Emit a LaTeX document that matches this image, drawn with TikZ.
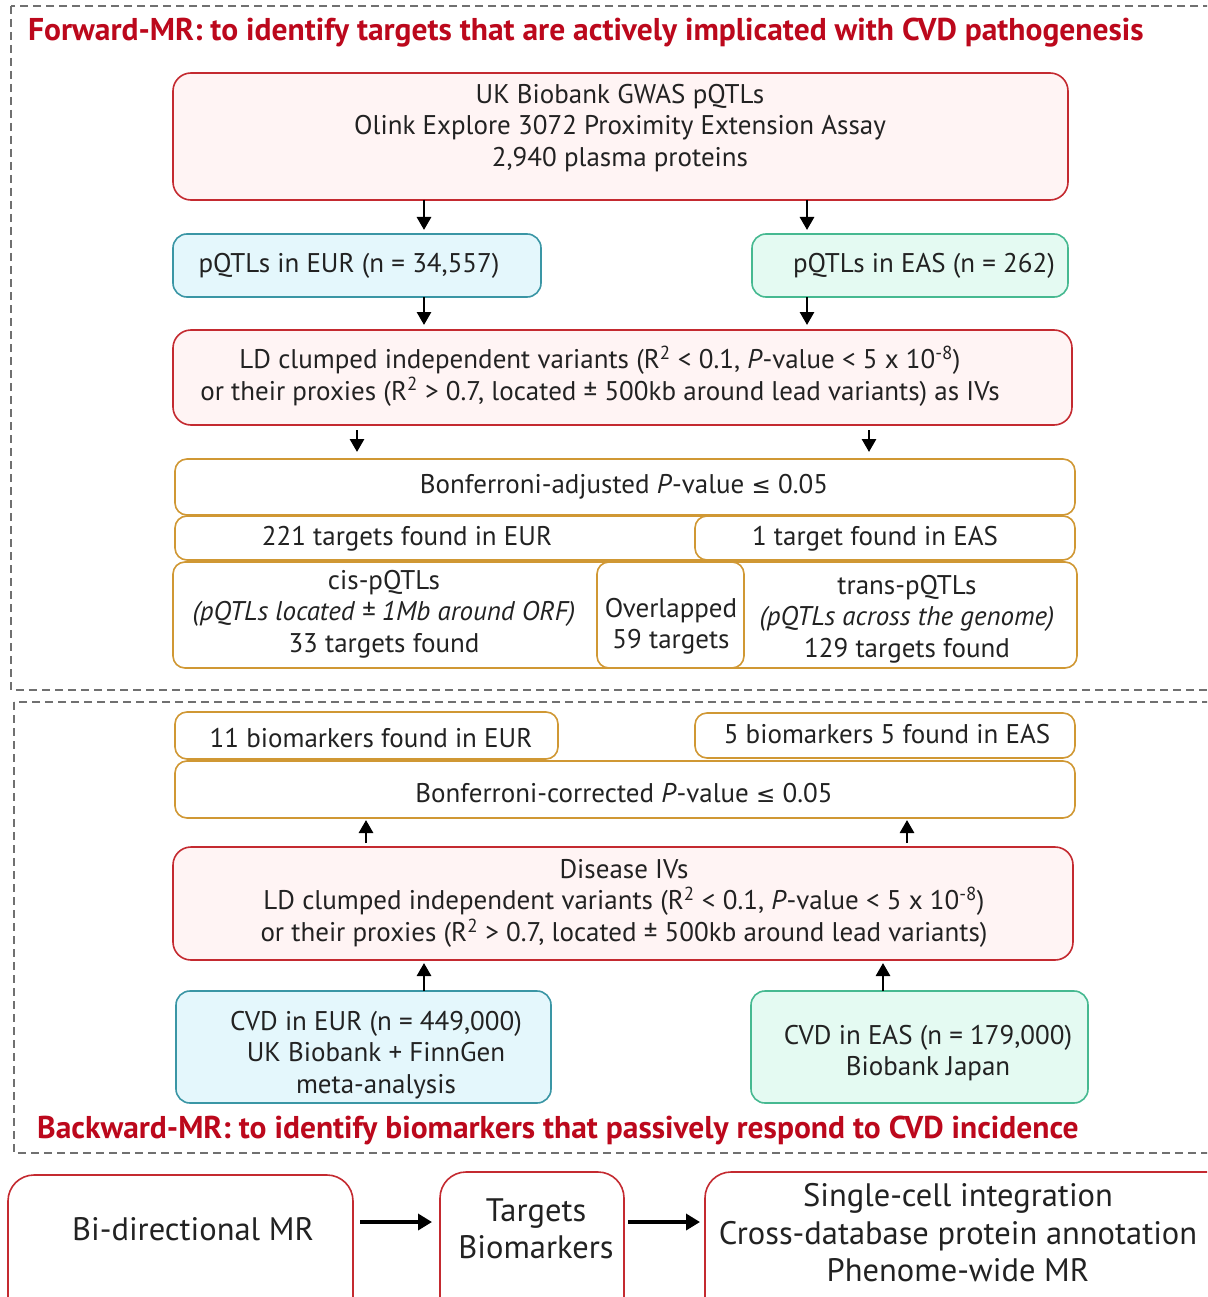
\documentclass[tikz,border=0pt]{standalone}
\usepackage{fontspec}
\setmainfont{PT Sans}
\newfontfamily\symfont{DejaVu Sans}
\usetikzlibrary{arrows.meta}

\definecolor{titlered}{RGB}{188,8,28}
\definecolor{boxred}{RGB}{196,42,48}
\definecolor{pinkfill}{RGB}{255,244,244}
\definecolor{cyanline}{RGB}{58,150,165}
\definecolor{cyanfill}{RGB}{228,247,252}
\definecolor{mintline}{RGB}{70,185,145}
\definecolor{mintfill}{RGB}{228,250,242}
\definecolor{goldline}{RGB}{208,152,52}
\definecolor{frameline}{RGB}{112,112,112}
\definecolor{inkgrey}{RGB}{34,34,34}

\newcommand{\bodyfont}{\fontsize{27}{31.5}\selectfont}
\newcommand{\bigfont}{\fontsize{32.5}{37.5}\selectfont}
\newcommand{\atmost}{{\symfont\fontsize{23}{31.5}\selectfont ≤}}

\tikzset{
	box/.style = {rounded corners = 18pt, line width = 1.6pt, inner sep = 0pt, outer sep = 0pt, anchor = north west},
	pinkbox/.style = {box, draw = boxred, fill = pinkfill},
	cyanbox/.style = {box, draw = cyanline, fill = cyanfill, rounded corners = 14pt},
	mintbox/.style = {box, draw = mintline, fill = mintfill, rounded corners = 14pt},
	goldbox/.style = {box, draw = goldline, fill = white, rounded corners = 12pt},
	endbox/.style = {box, draw = boxred, fill = white, rounded corners = 26pt},
	txt/.style = {inner sep = 0pt, align = center, text = inkgrey, font = \bodyfont},
	bigtxt/.style = {txt, font = \bigfont},
	title/.style = {inner sep = 0pt, anchor = west, text = titlered, font = \fontsize{31.5}{36}\selectfont\bfseries},
	frame/.style = {draw = frameline, line width = 1.3pt, dash pattern = on 8pt off 5pt},
	arr/.style = {line width = 2.8pt, -{Triangle[width = 14pt, length = 13pt]}},
	bigarr/.style = {line width = 3.8pt, -{Triangle[width = 16pt, length = 14pt]}}
}

\begin{document}
\begin{tikzpicture}[x = 1pt, y = -1pt]

\clip (0, 0) rectangle (1207, 1297);
\fill [white] (0, 0) rectangle (1207, 1297);

% Forward frame

\draw [frame] (11, 6) rectangle (1240, 690);
\node [title] (fwdtitle) at (28, 33) {Forward-MR: to identify targets that are actively implicated with CVD pathogenesis};

% Boxes

\node [pinkbox, minimum width = 895, minimum height = 127] (ukb) at (173, 73) {};
\node [cyanbox, minimum width = 368, minimum height = 63] (eur) at (173, 234) {};
\node [mintbox, minimum width = 316, minimum height = 63] (eas) at (752, 234) {};
\node [pinkbox, minimum width = 899, minimum height = 95] (ld) at (173, 330) {};
\node [goldbox, minimum width = 900, minimum height = 56] (bonf) at (175, 459) {};
\node [goldbox, minimum width = 560, minimum height = 44] (eur221) at (175, 516) {};
\node [goldbox, minimum width = 380, minimum height = 44] (eas1) at (695, 516) {};
\node [goldbox, minimum width = 470, minimum height = 106] (cis) at (173, 562) {};
\node [goldbox, minimum width = 380, minimum height = 106] (trans) at (697, 562) {};
\node [goldbox, minimum width = 147, minimum height = 106, fill = white] (overlap) at (597, 562) {};

% Texts

\node [txt] (ukbtxt) at (620, 128) {UK Biobank GWAS pQTLs\\Olink Explore 3072 Proximity Extension Assay\\2,940 plasma proteins};
\node [txt] (eurtxt) at (349, 266) {pQTLs in EUR (n = 34,557)};
\node [txt] (eastxt) at (924, 266) {pQTLs in EAS (n = 262)};
\node [txt] (ldtxt) at (600, 376) {LD clumped independent variants (R\textsuperscript{2} < 0.1, \textit{P}-value < 5 x 10\textsuperscript{-8})\\or their proxies (R\textsuperscript{2} > 0.7, located ± 500kb around lead variants) as IVs};
\node [txt] (bonftxt) at (624, 487) {Bonferroni-adjusted \textit{P}-value \atmost{} 0.05};
\node [txt] (eur221txt) at (407, 539) {221 targets found in EUR};
\node [txt] (eas1txt) at (875, 539) {1 target found in EAS};
\node [txt] (cistxt) at (384, 614) {cis-pQTLs\\\textit{(pQTLs located ± 1Mb around ORF)}\\33 targets found};
\node [txt] (overlaptxt) at (671, 626) {Overlapped\\59 targets};
\node [txt] (transtxt) at (907, 619) {trans-pQTLs\\\textit{(pQTLs across the genome)}\\129 targets found};

% Arrows

\coordinate (colA) at (424, 0);
\coordinate (colB) at (807, 0);
\coordinate (colC) at (357, 0);
\coordinate (colD) at (869, 0);

\draw [arr, shorten > = 4pt] (ukb.south -| colA) -- (eur.north -| colA);
\draw [arr, shorten > = 4pt] (ukb.south -| colB) -- (eas.north -| colB);
\draw [arr, shorten > = 5pt] (eur.south -| colA) -- (ld.north -| colA);
\draw [arr, shorten > = 5pt] (eas.south -| colB) -- (ld.north -| colB);
\draw [arr, shorten < = 5pt, shorten > = 7pt] (ld.south -| colC) -- (bonf.north -| colC);
\draw [arr, shorten < = 5pt, shorten > = 7pt] (ld.south -| colD) -- (bonf.north -| colD);

% Backward frame

\draw [frame] (14, 702) rectangle (1240, 1153);
\node [title] (bwdtitle) at (37, 1130) {Backward-MR: to identify biomarkers that passively respond to CVD incidence};

% Boxes

\node [goldbox, minimum width = 383, minimum height = 47] (bio11) at (175, 712) {};
\node [goldbox, minimum width = 380, minimum height = 45] (bio5) at (695, 713) {};
\node [goldbox, minimum width = 900, minimum height = 57] (bonfc) at (175, 761) {};
\node [pinkbox, minimum width = 900, minimum height = 113] (disiv) at (173, 847) {};
\node [cyanbox, minimum width = 375, minimum height = 112] (cvdeur) at (176, 991) {};
\node [mintbox, minimum width = 337, minimum height = 112] (cvdeas) at (751, 991) {};

% Texts

\node [txt] (bio11txt) at (371, 738) {11 biomarkers found in EUR};
\node [txt] (bio5txt) at (887, 734) {5 biomarkers 5 found in EAS};
\node [txt] (bonfctxt) at (624, 793) {Bonferroni-corrected \textit{P}-value \atmost{} 0.05};
\node [txt] (disivtxt) at (624, 903) {Disease IVs\\LD clumped independent variants (R\textsuperscript{2} < 0.1, \textit{P}-value < 5 x 10\textsuperscript{-8})\\or their proxies (R\textsuperscript{2} > 0.7, located ± 500kb around lead variants)};
\node [txt] (cvdeurtxt) at (376, 1055) {CVD in EUR (n = 449,000)\\UK Biobank + FinnGen\\meta-analysis};
\node [txt] (cvdeastxt) at (928, 1053) {CVD in EAS (n = 179,000)\\Biobank Japan};

% Arrows

\coordinate (colE) at (366, 0);
\coordinate (colF) at (907, 0);
\coordinate (colG) at (424, 0);
\coordinate (colH) at (883, 0);

\draw [arr, shorten < = 4pt, shorten > = 2pt] (disiv.north -| colE) -- (bonfc.south -| colE);
\draw [arr, shorten < = 4pt, shorten > = 2pt] (disiv.north -| colF) -- (bonfc.south -| colF);
\draw [arr, shorten > = 3pt] (cvdeur.north -| colG) -- (disiv.south -| colG);
\draw [arr, shorten > = 3pt] (cvdeas.north -| colH) -- (disiv.south -| colH);

% Summary row

\node [endbox, minimum width = 345, minimum height = 160] (bidir) at (8, 1175) {};
\node [endbox, minimum width = 184, minimum height = 160] (tgbio) at (440, 1172) {};
\node [endbox, minimum width = 540, minimum height = 160] (annot) at (705, 1172) {};

\node [bigtxt] (bidirtxt) at (193, 1229) {Bi-directional MR};
\node [bigtxt] (tgbiotxt) at (536, 1229) {Targets\\Biomarkers};
\node [bigtxt] (annottxt) at (958, 1233) {Single-cell integration\\Cross-database protein annotation\\Phenome-wide MR};

\coordinate (rowS) at (0, 1222);

\draw [bigarr, shorten < = 7pt, shorten > = 8pt] (bidir.east |- rowS) -- (tgbio.west |- rowS);
\draw [bigarr, shorten < = 4pt, shorten > = 5pt] (tgbio.east |- rowS) -- (annot.west |- rowS);

\end{tikzpicture}
\end{document}
